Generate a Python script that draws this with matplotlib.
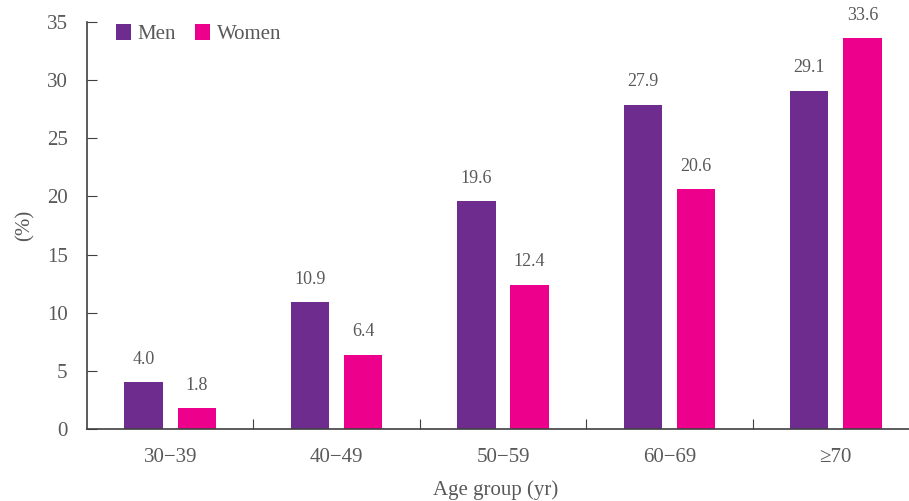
import matplotlib.pyplot as plt
import numpy as np

plt.rcParams["font.family"] = ["Liberation Serif", "DejaVu Serif"]

# --- data
groups = ["30\u221239", "40\u221249", "50\u221259", "60\u221269", "\u226570"]
men = [4.0, 10.9, 19.6, 27.9, 29.1]
women = [1.8, 6.4, 12.4, 20.6, 33.6]

men_color = "#6d2c8e"
women_color = "#ec008c"
text_color = "#595959"
axis_color = "#404040"

fig = plt.figure(figsize=(9.09, 5.01), dpi=100)
ax = fig.add_axes([87 / 909, 72 / 501, 832 / 909, 407 / 501])

x = np.arange(len(groups))
width = 0.23
offset = 0.16
b1 = ax.bar(x - offset, men, width, color=men_color, label="Men")
b2 = ax.bar(x + offset, women, width, color=women_color, label="Women")

for bars, vals in ((b1, men), (b2, women)):
    for rect, v in zip(bars, vals):
        ax.annotate(
            f"{v:.1f}",
            (rect.get_x() + rect.get_width() / 2, rect.get_height()),
            xytext=(0, 16.5),
            textcoords="offset points",
            ha="center",
            va="center",
            fontsize=13,
            color=text_color,
            clip_on=False,
        )

ax.set_xlim(-0.5, len(groups) - 0.5)
ax.set_ylim(0, 35)
ax.set_yticks(np.arange(0, 36, 5))

# group separators as major ticks, labels on minor ticks
ax.set_xticks(np.arange(0.5, len(groups) - 0.5, 1))
ax.set_xticklabels([])
ax.set_xticks(x, minor=True)
ax.set_xticklabels(groups, minor=True)
ax.tick_params(axis="x", which="major", direction="in", length=7, color=axis_color)
ax.tick_params(axis="x", which="minor", length=0, pad=14, labelsize=15, labelcolor=text_color)
ax.tick_params(axis="y", direction="in", length=7, color=axis_color, pad=14,
               labelsize=15, labelcolor=text_color)

for side in ("top", "right"):
    ax.spines[side].set_visible(False)
for side in ("left", "bottom"):
    ax.spines[side].set_color(axis_color)
    ax.spines[side].set_linewidth(1.2)

fig.text(25 / 909, 1 - 225 / 501, "(%)", rotation=90, ha="center", va="center",
         fontsize=15, color=text_color)
fig.text(496 / 909, 1 - 490 / 501, "Age group (yr)", ha="center", va="center",
         fontsize=15, color=text_color)

leg = ax.legend(loc="upper left", bbox_to_anchor=(0.012, 1.04), ncol=2, frameon=False,
                fontsize=15, handlelength=0.75, handleheight=0.75, handletextpad=0.3,
                columnspacing=0.9)
for t in leg.get_texts():
    t.set_color(text_color)

fig.savefig("out.png", dpi=100)
